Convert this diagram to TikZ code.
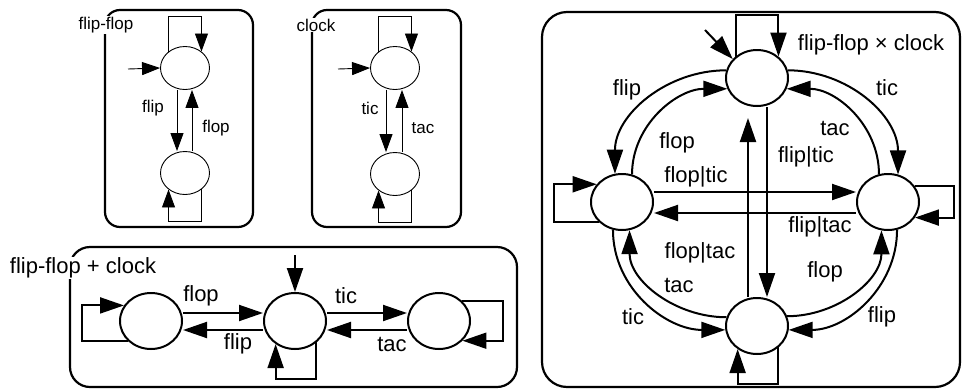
\documentclass[tikz,border=0pt]{standalone}
\usepackage{fontspec}
\setmainfont{Liberation Sans}
\usetikzlibrary{arrows.meta,shapes.geometric}
\tikzset{
  panel/.style={draw=black,line width=2.2pt,rounded corners=#1},
  paneltitle/.style={font=\fontsize{17}{19}\selectfont,fill=white,inner sep=1pt},
  bigtitle/.style={font=\fontsize{22}{24}\selectfont,fill=white,inner sep=1pt},
  small/.style={font=\fontsize{17}{19}\selectfont,inner sep=0pt},
  body/.style={font=\fontsize{22}{24}\selectfont,inner sep=0pt},
  smallstate/.style={ellipse,draw,line width=0.9pt,minimum width=49pt,minimum height=43pt,inner sep=0pt},
  state/.style={ellipse,draw,line width=2pt,minimum width=62pt,minimum height=56pt,inner sep=0pt},
  arrthin/.style={-{Triangle[length=18pt,width=13pt]},line width=0.9pt},
  arr/.style={-{Triangle[length=24pt,width=16pt]},line width=2pt}
}
\begin{document}
\begin{tikzpicture}[x=1pt,y=-1pt]
\path[use as bounding box] (0,0) rectangle (967,389);
\draw[panel=15pt] (105,10) rectangle (253,227);
\node[paneltitle] (fftitle) at (106,25) {flip-flop};
\node[smallstate] (f1) at (185,68) {}; \node[smallstate] (f2) at (185,173) {};
\coordinate (fin) at (128,69);
\draw[arrthin] (fin) -- (f1.west);
\draw[arrthin] (f1.135) -- ++(0,-35) -| (f1.45);
\draw[arrthin] ([xshift=-8pt]f1.south) -- ([xshift=-8pt]f2.north);
\draw[arrthin] ([xshift=7pt]f2.north) -- ([xshift=7pt]f1.south);
\draw[arrthin] (f2.-45) -- ++(0,32) -| (f2.-135);
\node[small] at (153,108) {flip}; \node[small] at (216,128) {flop};
\draw[panel=15pt] (312,10) rectangle (461,227);
\node[paneltitle] (cltitle) at (316,25) {clock};
\node[smallstate] (c1) at (395,68) {}; \node[smallstate] (c2) at (395,174) {};
\coordinate (cin) at (338,69);
\draw[arrthin] (cin) -- (c1.west);
\draw[arrthin] (c1.135) -- ++(0,-35) -| (c1.45);
\draw[arrthin] ([xshift=-9pt]c1.south) -- ([xshift=-9pt]c2.north);
\draw[arrthin] ([xshift=7pt]c2.north) -- ([xshift=7pt]c1.south);
\draw[arrthin] (c2.-45) -- ++(0,32) -| (c2.-135);
\node[small] at (370,108) {tic}; \node[small] at (423,128) {tac};
\draw[panel=20pt] (70,247) rectangle (517,387);
\node[bigtitle] (sumtitle) at (83,268) {flip-flop + clock};
\node[state] (L) at (151,321) {}; \node[state] (C) at (295,321) {}; \node[state] (R) at (439,321) {};
\coordinate (sin) at (295,255);
\draw[arr] (sin) -- (C.north);
\draw[arr] ([yshift=8pt]L.east) -- ([yshift=8pt]C.west);
\draw[arr] ([yshift=-9pt]C.west) -- ([yshift=-9pt]L.east);
\draw[arr] ([yshift=8pt]C.east) -- ([yshift=8pt]R.west);
\draw[arr] ([yshift=-9pt]R.west) -- ([yshift=-9pt]C.east);
\draw[arr] (L.220) -- ++(-46,0) |- (L.150);
\draw[arr] (C.-45) -- ++(0,37) -| (C.-130);
\draw[arr] (R.40) -- ++(41,0) |- (R.-40);
\node[body] at (201,296) {flop}; \node[body] at (238,344) {flip};
\node[body] at (346,296) {tic}; \node[body] at (392,344) {tac};
\draw[panel=25pt] (542,12) rectangle (960,387);
\node[body] (prodtitle) at (871,45) {flip-flop × clock};
\node[state] (T) at (757,78) {}; \node[state] (Lf) at (622,202) {};
\node[state] (Rt) at (888,202) {}; \node[state] (B) at (757,326) {};
\coordinate (tin) at (705,30);
\draw[arr] (tin) -- (T.142);
\draw[arr] (T.135) -- ++(0,-42) -| (T.45);
\draw[arr] (Lf.220) -- ++(-45,0) |- (Lf.145);
\draw[arr] (Rt.30) -- ++(39,0) |- (Rt.-30);
\draw[arr] (B.-45) -- ++(0,37) -| (B.-130);
\draw[arr] ([yshift=10pt]Lf.east) -- ([yshift=10pt]Rt.west);
\draw[arr] ([yshift=-11pt]Rt.west) -- ([yshift=-11pt]Lf.east);
\draw[arr,shorten >=11pt] ([xshift=-9pt]B.north) -- ([xshift=-9pt]T.south);
\draw[arr] ([xshift=10pt]T.south) -- ([xshift=10pt]B.north);
\draw[arr] (T.166) to[out=180,in=90] (Lf.104);
\draw[arr] (Lf.70) to[out=90,in=180] (T.200);
\draw[arr] (T.14) to[out=0,in=90] (Rt.70);
\draw[arr] (Rt.108) to[out=90,in=0] (T.-20);
\draw[arr] (Lf.252) to[out=270,in=180] (B.187);
\draw[arr] (B.164) to[out=180,in=270] (Lf.285);
\draw[arr] (B.18) to[out=0,in=270] (Rt.257);
\draw[arr] (Rt.288) to[out=270,in=0] (B.353);
\node[body] at (627,90) {flip}; \node[body] at (677,143) {flop};
\node[body] at (887,88) {tic}; \node[body] at (835,128) {tac};
\node[body] at (696,177) {flop|tic}; \node[body] at (806,157) {flip|tic};
\node[body] at (820,227) {flip|tac}; \node[body] at (700,253) {flop|tac};
\node[body] at (633,317) {tic}; \node[body] at (679,285) {tac};
\node[body] at (825,272) {flop}; \node[body] at (882,317) {flip};
\end{tikzpicture}
\end{document}
